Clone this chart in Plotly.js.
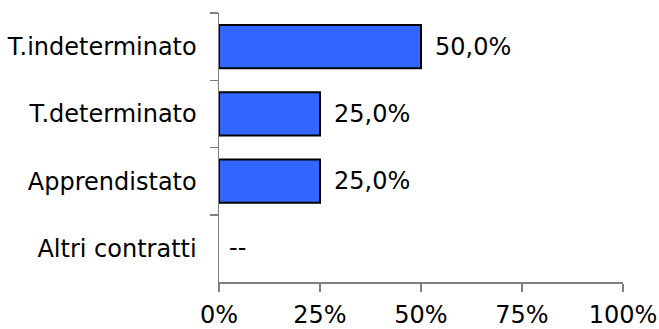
<!DOCTYPE html>
<html>
<head>
<meta charset="utf-8">
<script src="https://cdn.plot.ly/plotly-3.0.1.min.js"></script>
<style>html,body{margin:0;padding:0;background:#fff;}#chart{width:659px;height:329px;}</style>
</head>
<body>
<div id="chart"></div>
<script>
var categories = ["T.indeterminato", "T.determinato", "Apprendistato", "Altri contratti"];
var values = [50, 25, 25, 0];
var valueLabels = ["50,0%", "25,0%", "25,0%", "--"];
var xTickVals = [0, 25, 50, 75, 100];
var xTickText = ["0%", "25%", "50%", "75%", "100%"];

var FONT = "DejaVu Sans, Verdana, sans-serif";
var FS = 24;

var trace = {
  type: "bar",
  orientation: "h",
  y: categories,
  x: values,
  marker: {
    color: "#3366FF",
    line: {color: "#000000", width: values.map(function (v) { return v > 0 ? 2 : 0; })}
  },
  hoverinfo: "none"
};

var annotations = categories.map(function (c, i) {
  return {
    x: values[i], y: c, xref: "x", yref: "y",
    text: valueLabels[i], showarrow: false,
    xanchor: "left", yanchor: "middle", xshift: values[i] > 0 ? 12 : 8,
    font: {family: FONT, size: FS, color: "#000"}
  };
});

var layout = {
  width: 659, height: 329,
  margin: {l: 219, r: 36, t: 13, b: 47},
  paper_bgcolor: "#fff", plot_bgcolor: "#fff",
  showlegend: false,
  bargap: 0.36,
  font: {family: FONT, size: FS, color: "#000"},
  xaxis: {
    range: [0, 100],
    tickvals: xTickVals, ticktext: xTickText,
    showgrid: false, zeroline: false,
    showline: true, linecolor: "#808080", linewidth: 1.5,
    ticks: "outside", ticklen: 8, tickcolor: "#808080", tickwidth: 1.5,
    ticklabelstandoff: 3,
    tickfont: {family: FONT, size: FS, color: "#000"}
  },
  yaxis: {
    type: "category",
    categoryorder: "array", categoryarray: categories,
    autorange: "reversed",
    tickson: "boundaries",
    showgrid: false, zeroline: false,
    showline: true, linecolor: "#808080", linewidth: 1.5,
    ticks: "outside", ticklen: 8, tickcolor: "#808080", tickwidth: 1.5,
    ticklabelstandoff: 16,
    tickfont: {family: FONT, size: FS, color: "#000"}
  },
  annotations: annotations
};

Plotly.newPlot("chart", [trace], layout, {staticPlot: true, displayModeBar: false});
</script>
</body>
</html>
